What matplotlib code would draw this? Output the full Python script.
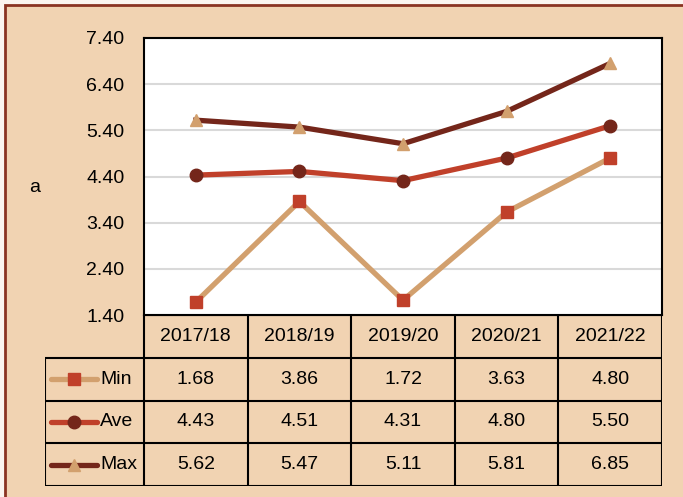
import matplotlib
matplotlib.use("Agg")
import matplotlib.pyplot as plt
from matplotlib.patches import Rectangle

plt.rcParams['font.family'] = ['Liberation Sans', 'DejaVu Sans']

# data
years = ["2017/18", "2018/19", "2019/20", "2020/21", "2021/22"]
min_vals = [1.68, 3.86, 1.72, 3.63, 4.80]
ave_vals = [4.43, 4.51, 4.31, 4.80, 5.50]
max_vals = [5.62, 5.47, 5.11, 5.81, 6.85]
series_names = ["Min", "Ave", "Max"]
yticks = [1.40, 2.40, 3.40, 4.40, 5.40, 6.40, 7.40]

bg = '#F1D3B2'
tan = '#D2A06E'
red = '#C0402A'
brown = '#74261A'
fs = 14
ms = 9

# line colour, marker, marker colour for each series
styles = [(tan, 's', red), (red, 'o', brown), (brown, '^', tan)]

W, H = 683, 497
fig = plt.figure(figsize=(W / 100, H / 100), dpi=100)
fig.patch.set_facecolor('#FBF5F0')

# beige panel with brown frame
fig.patches.append(Rectangle((5 / W, -0.1), 1.2, 1.1 - 5 / H,
                             transform=fig.transFigure, facecolor=bg,
                             edgecolor='#8A3322', linewidth=2, zorder=-5))

# plot area
left, right, top, bottom = 144, 662, 38, 315
ax = fig.add_axes([left / W, 1 - bottom / H, (right - left) / W, (bottom - top) / H])
ax.set_facecolor('white')

x = list(range(len(years)))
all_vals = [min_vals, ave_vals, max_vals]
for vals, (lc, mk, mc) in zip(all_vals, styles):
    ax.plot(x, vals, color=lc, linewidth=3.8, marker=mk, markersize=ms,
            markerfacecolor=mc, markeredgecolor=mc, zorder=3)

ax.set_xlim(-0.5, len(years) - 0.5)
ax.set_ylim(yticks[0], yticks[-1])
ax.set_yticks(yticks)
ax.set_yticklabels([f"{t:.2f}" for t in yticks], fontsize=fs)
ax.set_xticks([])
ax.tick_params(axis='y', length=0, pad=14)
ax.grid(axis='y', color='#D9D9D9', linewidth=1.5, zorder=1)
for s in ax.spines.values():
    s.set_color('black')
    s.set_linewidth(1.5)

fig.text(35 / W, 1 - 187 / H, "a", fontsize=fs, ha='center', va='center')

# data table below the plot, same x scale as the chart
tbl_left, tbl_bottom = 45, 486
col_px = (right - left) / len(years)
label_w = (left - tbl_left) / col_px
axt = fig.add_axes([tbl_left / W, 1 - tbl_bottom / H,
                    (right - tbl_left) / W, (tbl_bottom - bottom) / H])
axt.set_xlim(-0.5 - label_w, len(years) - 0.5)
axt.set_ylim(len(series_names) + 1, 0)
axt.axis('off')

n = len(years)
lw = 1.5
# horizontal lines
axt.hlines(0, -0.5, n - 0.5, color='black', linewidth=lw)
for r in range(1, len(series_names) + 2):
    axt.hlines(r, -0.5 - label_w, n - 0.5, color='black', linewidth=lw)
# vertical lines
for c in range(n + 1):
    axt.vlines(c - 0.5, 0, len(series_names) + 1, color='black', linewidth=lw)
axt.vlines(-0.5 - label_w, 1, len(series_names) + 1, color='black', linewidth=lw)

for c, yr in enumerate(years):
    axt.text(c, 0.5, yr, ha='center', va='center', fontsize=fs)
for r, vals in enumerate(all_vals):
    for c, v in enumerate(vals):
        axt.text(c, r + 1.5, f"{v:.2f}", ha='center', va='center', fontsize=fs)

# legend keys in the row-label cells
x0 = -0.5 - label_w + 6 / col_px
x1 = -0.5 - label_w + 52 / col_px
for r, (name, (lc, mk, mc)) in enumerate(zip(series_names, styles)):
    yc = r + 1.5
    axt.plot([x0, x1], [yc, yc], color=lc, linewidth=3.8,
             solid_capstyle='round', clip_on=False)
    axt.plot([(x0 + x1) / 2], [yc], marker=mk, markersize=ms, color=mc,
             linestyle='none', clip_on=False)
    axt.text(x1 + 3 / col_px, yc, name, ha='left', va='center', fontsize=fs)

fig.savefig("out.png", dpi=100, facecolor=fig.get_facecolor())
